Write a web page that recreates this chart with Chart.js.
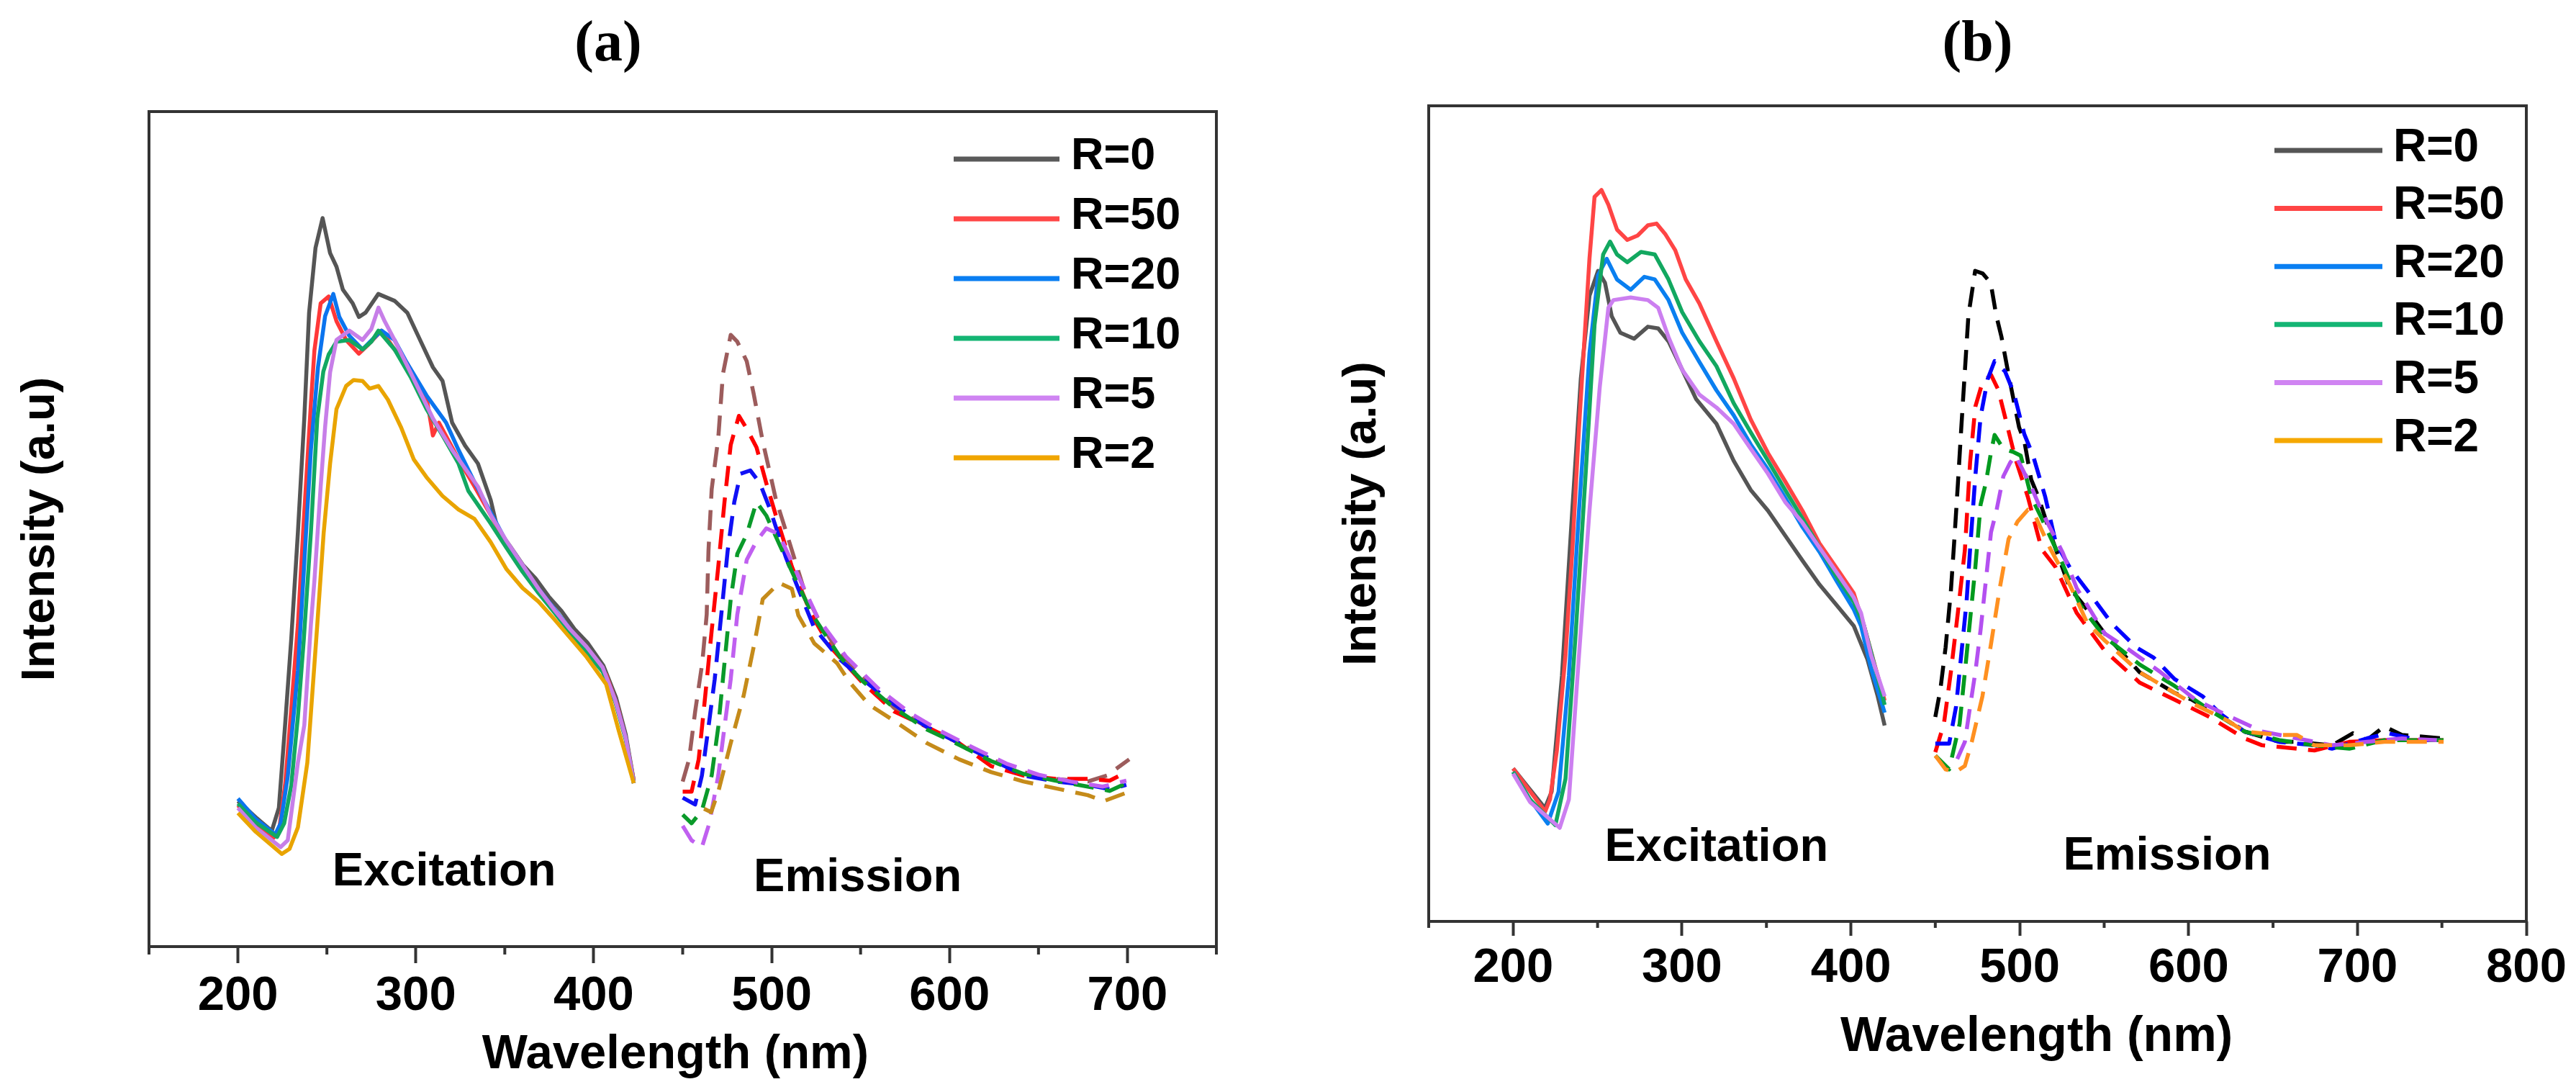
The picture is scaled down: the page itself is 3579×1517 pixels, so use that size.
<!DOCTYPE html>
<html>
<head>
<meta charset="utf-8">
<script src="https://cdn.jsdelivr.net/npm/chart.js@4.4.0/dist/chart.umd.min.js"></script>
<style>
  html, body { margin: 0; padding: 0; background: #fff; }
  #wrap { position: relative; width: 3579px; height: 1517px; }
  canvas { position: absolute; top: 0; }
  #ca { left: 0; }
  #cb { left: 1790px; }
</style>
</head>
<body>
<div id="wrap">
  <canvas id="ca" width="1790" height="1517"></canvas>
  <canvas id="cb" width="1789" height="1517"></canvas>
</div>
<script>
'use strict';
/* Excitation / emission spectra, panels (a) and (b). Intensity is arbitrary units. */
const SERIES = ['R=0', 'R=50', 'R=20', 'R=10', 'R=5', 'R=2'];
const X_TICKS_A = [200, 300, 400, 500, 600, 700];
const X_TICKS_B = [200, 300, 400, 500, 600, 700, 800];

// ---- panel (a), excitation: [wavelength nm, intensity]
const aExR0 = [[200,19.1],[210,17.2],[219,15.6],[223,18.3],[226.5,28],[230,38.2],[233.7,50.6],[237.3,64],[240,76.4],[243.6,84],[247.6,87.5],[251.8,83.4],[255.4,81.8],[259,79.1],[264.5,77.5],[268,75.9],[271.7,76.4],[278.9,78.6],[288,77.8],[295.2,76.4],[302.4,73.2],[309.6,70],[315,68.4],[320.4,63.5],[327.7,60.8],[334.9,58.7],[342.1,54.4],[345.8,51.1],[353,49],[360.2,46.8],[367.4,45.2],[374.7,43.1],[381.9,41.4],[389.1,39.3],[396.4,37.7],[405.4,35],[412.6,31.2],[418,26.9],[422.5,21.5]];
const aExR50 = [[200,18.6],[210,16.5],[220,14.8],[223,15.5],[226.5,21],[230,30],[233.7,39.8],[237,52],[241,65.7],[243,72],[246.5,77.5],[251,78.3],[255.4,75.4],[260.8,73.2],[268,71.6],[273.5,72.7],[280.7,74.3],[288,72.1],[295,70.5],[306,66.5],[309.6,62],[313,63.5],[324,59.2],[333,56],[342,52.7],[351,49.3],[360,46.3],[369,43.8],[378,41.4],[387,38.9],[396,36.6],[407,33.9],[413,30.5],[418,26.5],[422.5,21.5]];
const aExR20 = [[200,19.4],[210,17],[221,15.2],[224,16.5],[228,22],[233.7,34.4],[237,46],[241,60.3],[245,70],[249,76],[253.6,78.6],[257,75.9],[262.6,73.7],[270,72.1],[275.3,73.2],[280.7,74.3],[288,73.2],[295,70.5],[306,66.7],[317,63.5],[324,60.3],[333,56.5],[342,53],[351,49.5],[360,46.5],[369,44],[378,41.6],[387,39.2],[396,36.8],[405,34.6],[412,31],[418,26.5],[422.5,21.2]];
const aExR10 = [[200,18.8],[210,16.6],[222,14.9],[226,16.5],[230,21],[233.7,29],[237,38],[241,50.6],[244.6,64],[248,69.5],[251,71.5],[255.4,73],[262.6,73.2],[270,72.1],[275,73],[279,74.3],[288,72.1],[297,68.9],[306,65.1],[315,62],[324,58.7],[329.5,55.5],[342,51.7],[351,48.8],[360,46],[369,43.5],[378,41.2],[387,38.8],[396,36.5],[405,34.3],[412,30.8],[418,26.3],[422.5,21.2]];
const aExR5 = [[200,18.3],[210,16],[224,13.7],[228,14.5],[233.7,23.6],[237.3,28],[241,39.8],[243,45],[246.5,56],[249,63],[251.8,69.4],[255.4,73.2],[262.6,74.3],[270,73.2],[275,74.5],[279,77],[282.5,75.4],[288,73.2],[297,69.4],[309.6,64],[320.4,60.3],[334.9,56],[342,52.7],[351,49.6],[360,46.8],[369,44],[378,41.5],[387,39.2],[396,37.2],[405,34.8],[412,31],[418,26.5],[422.5,21.2]];
const aExR2 = [[200,17.7],[210,15.5],[224.7,12.9],[229,13.5],[233.7,16],[239,23.6],[244.6,39.8],[248.2,50.6],[251.8,58.7],[255.4,65.1],[260.8,67.8],[265,68.5],[270,68.4],[274,67.5],[279,67.8],[284.3,66.2],[291.6,63],[298.8,59.2],[306,57.1],[315,54.9],[324,53.3],[333,52.2],[342,49.5],[351,46.3],[360,44.1],[369,42.5],[378,40.4],[387,38.2],[396,36],[407,32.8],[414,27.4],[422.5,21.2]];

// ---- panel (a), emission
const aEmR0 = [[450,21.4],[453.6,24],[457,29.6],[461,35.3],[463.5,41],[464.5,48.5],[466.3,55.7],[470,61.7],[472.6,69.2],[477,73.8],[480.7,73],[486,70.7],[489.8,67],[495,61.3],[502.4,54.5],[508,50.8],[518.7,43.6],[525.9,40.6],[536.7,36.8],[551,33.8],[569,30],[587.3,27.8],[605.4,25.9],[623.4,24],[641.5,22.5],[659.6,21.7],[677.7,21.4],[688.5,22.1],[701,24]];
const aEmR50 = [[450,20.2],[455,20.2],[459,24],[462.7,31.5],[466.3,39.1],[470,46.6],[473.5,54.2],[477,60.9],[481.6,64.3],[486,62.8],[491.5,60.6],[497,56.4],[502.4,52.6],[511.4,46.6],[522.3,41],[533,37.2],[551,33],[569,29.6],[587.3,27.8],[605.4,25.9],[623.4,23.2],[641.5,22.1],[659.6,21.7],[677.7,21.7],[690,21.5],[699.4,22.5]];
const aEmR20 = [[450,19.5],[457,18.7],[460.8,22.1],[464.5,27.8],[468,33.4],[471.7,41],[475.3,48.5],[479,54.2],[482.5,57.5],[488,57.9],[493.4,56.4],[499,53.4],[508,47.7],[515,44],[524,39.4],[538.5,35.7],[551,33.4],[569,30.4],[587.3,27.8],[605.4,25.9],[623.4,24],[641.5,22.1],[659.6,21.4],[677.7,21],[690,20.5],[699.4,21]];
const aEmR10 = [[450,17.5],[455,16.5],[460.8,18],[466.3,22.1],[470,27.8],[473.5,35.3],[477,42.8],[480.7,48.1],[486,50.4],[491.5,54.2],[497,52.6],[504.2,49.3],[515,44.4],[524,40.6],[538.5,36],[551,33.2],[569,30],[587.3,27.5],[605.4,25.7],[623.4,23.8],[641.5,22.3],[659.6,21.5],[677.7,20.8],[690,20.3],[699.4,21.2]];
const aEmR5 = [[450,16.2],[455,14.5],[460.8,13.7],[465,16.5],[470,22.1],[473.5,27.8],[477,33.4],[480.7,41],[486,47.4],[491.5,49.6],[497,51.1],[504.2,50.4],[515,45.5],[525.9,40.6],[542,36],[560,32.3],[578,29.4],[596,27.2],[614,25.3],[632,23.5],[650,22.2],[668,21.4],[686,20.8],[699.4,21.5]];
const aEmR2 = [[462,18.2],[466,17.8],[470,20.2],[477,25.9],[484.3,31.5],[490.7,38],[495,42.8],[504.2,44.7],[511.4,44],[515,40.9],[524,37.6],[536.7,35.3],[544,33],[554.8,30.4],[569,28.5],[587.3,25.9],[605.4,24],[623.4,22.5],[641.5,21.4],[659.6,20.6],[677.7,19.8],[686.7,19.1],[701,20.2]];

// ---- panel (b), excitation (no R=2 curve)
const bExR0 = [[200,22.9],[209,20.7],[218.8,18.3],[222.8,20.2],[228.9,33.7],[235,52.9],[240.1,68.3],[245.2,77.9],[250.3,80.8],[254.4,79.4],[258.4,75.5],[263.5,73.6],[271.6,72.9],[279.8,74.3],[285.9,74.1],[292,72.6],[300.1,69.3],[308.3,65.9],[320.4,63],[330.6,58.7],[340.7,55.3],[350.9,52.9],[361.1,50],[371.3,47.1],[381.4,44.3],[391.6,41.9],[401.7,39.5],[409.8,35.6],[415.9,31.3],[420,27.9]];
const bExR50 = [[200,22.9],[209,20.5],[219,17.9],[221.8,19.3],[225.9,25],[231,36.1],[235,48.1],[239,62.5],[242,72.1],[245.2,82.2],[248.2,89.4],[252.3,90.2],[256.4,88.5],[261.5,85.6],[267.6,84.4],[273.7,84.9],[279.8,86.1],[284.9,86.3],[290,85.1],[296,83.2],[302.2,79.8],[310.3,77],[320.4,72.6],[330.6,68.3],[340.7,63.5],[350.9,59.6],[361.1,56.3],[371.3,52.9],[381.4,49.1],[391.6,46.2],[401.7,43.3],[407.8,39.5],[413.9,35.1],[420,30.8]];
const bExR20 = [[200,22.5],[210,19.3],[220.5,16.5],[226.9,20.2],[233,33.7],[239,52.9],[245.2,71.2],[250.3,80.3],[255.4,82.2],[261.5,79.8],[269.6,78.6],[277.7,80.1],[283.9,79.8],[292,77.4],[300.1,73.6],[310.3,70.2],[320.4,66.9],[330.6,64],[340.7,60.6],[350.9,57.7],[361.1,54.4],[371.3,51],[381.4,48.1],[391.6,44.7],[401.7,41.4],[406,39.5],[411.9,34.6],[420,29.4]];
const bExR10 = [[200,22.5],[210,19.3],[225,16.3],[231,21.7],[237,38.5],[243.1,57.7],[248.2,74.5],[253.3,82.7],[257.4,84.2],[261.5,82.7],[267.6,81.8],[275.7,83],[283.9,82.7],[292,79.8],[300.1,76],[310.3,72.6],[320.4,69.7],[330.6,65.4],[340.7,62],[350.9,58.7],[361.1,55.3],[371.3,52],[381.4,48.6],[391.6,45.2],[401.7,42.3],[407.8,39.5],[413.9,35],[420,30.3]];
const bExR5 = [[200,22.3],[210,19],[227.6,16],[233,19.3],[239,36.1],[245.2,52.9],[251.3,67.3],[256.4,76.5],[259.4,77.4],[269.6,77.7],[279.8,77.4],[285.9,76.5],[292,73.1],[300.1,69.3],[310.3,66.4],[320.4,64.9],[330.6,63],[340.7,60.1],[350.9,57.2],[361.1,53.9],[371.3,51.5],[381.4,48.6],[391.6,45.7],[401.7,42.8],[406,41],[411.9,36.1],[420,31.3]];

// ---- panel (b), emission
const bEmR0 = [[450,28.9],[453,32.1],[456.1,37],[459.2,43.5],[461.3,49.6],[463.4,56.1],[465.4,62.6],[467.5,69.1],[469.6,75.6],[473.6,80.8],[478,80.5],[482.8,79.4],[486.1,75.6],[489.2,73.1],[493.4,68.7],[499.6,62.6],[502.7,61],[506.8,56.5],[511,54.5],[519.2,49.6],[529.6,43.9],[537.9,41.9],[550.3,38.6],[571,34.1],[591.7,31.7],[602,30.9],[622.8,28.5],[633.1,27.2],[653.8,26],[664.2,26],[684.9,25.6],[697.3,27],[705.6,26.2],[715.9,27.8],[726.3,26.8],[751,26.4]];
const bEmR50 = [[450,24.8],[455.1,28.1],[459.2,34.1],[463.4,41.1],[467.5,48.3],[470.6,58.5],[473.7,65],[477.9,67.8],[483,68.7],[487.2,67],[491.3,63.8],[497.5,58.9],[504.8,54.5],[513,48.4],[521.3,46.3],[533.7,41],[550.3,36.6],[571,32.9],[591.7,30.9],[612.4,28.9],[633.1,26.4],[643.5,25.6],[664.2,25.2],[674.5,25],[695.2,26],[715.9,26.2],[751,26.2]];
const bEmR20 = [[450,25.8],[458.2,25.8],[462.3,30.1],[465.4,36.2],[468.5,42.3],[470.6,48.4],[473.7,56.9],[476.8,63.8],[481,68.2],[485.1,70.3],[491.3,69.1],[496.5,66.6],[502.7,61.8],[507.9,59.3],[515.1,54.5],[521.3,49.2],[529.6,46.3],[542,43.1],[554.4,39.8],[568.9,37],[579.3,35.8],[591.7,33.3],[608.3,31.3],[618.6,29.3],[633.1,27.2],[653.8,26],[674.5,25.6],[684.9,25.2],[705.6,26.4],[718,27],[736.6,26.2],[751,26.2]];
const bEmR10 = [[450,24.4],[458.2,22.8],[464.4,28.1],[467.5,34.1],[470.6,40.2],[473.7,46.3],[476.8,53.6],[479.9,56.1],[483,59.7],[485.1,61.7],[490.3,60.1],[496.5,59.7],[500.6,59.3],[506.8,54.5],[513,52],[523.4,47.6],[535.8,41.9],[550.3,38.2],[560.7,36.6],[571,35],[591.7,32.5],[612.4,29.7],[633.1,27.2],[653.8,26.2],[674.5,25.6],[695.2,25.2],[715.9,26.2],[751,26.2]];
const bEmR5 = [[463,24],[467.5,26],[470.6,30.1],[473.7,34.1],[476.8,39],[479.9,44.7],[483,50.4],[486.1,52.8],[490.3,56.9],[494.4,58.5],[497.5,59.3],[506.8,55.7],[513,52.8],[525.5,48],[533.7,43.9],[550.3,38.6],[562.7,37],[583.4,34.1],[604.1,30.9],[624.8,28.9],[643.5,27.2],[664.2,26.4],[684.9,25.6],[705.6,26],[726.3,26.4],[747,26.2]];
const bEmR2 = [[450,24.4],[456.1,22.8],[462,22.5],[467.5,23.2],[471.6,26],[477.9,31.3],[483,37.4],[488.2,43.9],[493.4,49.6],[498.6,51.6],[504.8,53],[508.9,52.4],[518,48.5],[529.6,44.3],[540,39.8],[550.3,37.8],[571,34.1],[591.7,31.7],[602,30.5],[622.8,28.5],[633.1,27.2],[653.8,26.8],[664.2,26.8],[674.5,25.6],[695.2,25.6],[715.9,26],[736.6,26],[751,26]];

// colours, in SERIES order
const KEY_A = ['#5a5a5a', '#ff4747', '#0a7ef2', '#14b574', '#cf84f2', '#f0a500'];
const KEY_B = ['#555555', '#ff4545', '#0a7ff2', '#14b574', '#d084f2', '#f5a800'];
const EX_A = ['#555555', '#ff3838', '#0b74ee', '#12a862', '#c77ee8', '#e9a400'];
const EM_A = ['#9c5c5c', '#ff0000', '#1010f5', '#0a9a2a', '#c060f0', '#c58b1a'];
const EX_B = ['#555555', '#ff4545', '#0a7ff0', '#12a860', '#cc7ff0'];
const EM_B = ['#000000', '#ff0000', '#0000ff', '#009a1e', '#b450f0', '#ff9020'];

const SANS = "'Liberation Sans', Arial, sans-serif";
const pts = (arr) => arr.map(([x, y]) => ({ x, y }));

function line(data, color, dashed) {
  return {
    data: pts(data), borderColor: color, borderWidth: 5.5,
    borderDash: dashed ? [28, 16] : [], borderJoinStyle: 'round',
    pointRadius: 0, tension: 0, fill: false,
  };
}

// box frame + short minor ticks on the x axis
const frame = {
  id: 'frame',
  afterDraw(chart, args, o) {
    const { ctx, chartArea: a } = chart, x = chart.scales.x;
    ctx.save();
    ctx.strokeStyle = '#333'; ctx.lineWidth = 4;
    ctx.strokeRect(a.left, a.top, a.right - a.left, a.bottom - a.top);
    ctx.beginPath();
    for (let v = x.min; v <= x.max; v += 50) {
      if (v % 100 === 0) continue;
      const px = x.getPixelForValue(v);
      ctx.moveTo(px, a.bottom); ctx.lineTo(px, a.bottom + o.minor);
    }
    ctx.stroke();
    ctx.restore();
  },
};

// legend drawn inside the plot
const key = {
  id: 'key',
  afterDraw(chart, args, o) {
    const { ctx } = chart;
    ctx.save();
    ctx.font = `bold ${o.size}px ${SANS}`;
    ctx.textBaseline = 'middle'; ctx.textAlign = 'left';
    SERIES.forEach((t, i) => {
      const y = o.top + i * o.step;
      ctx.strokeStyle = o.colors[i]; ctx.lineWidth = 7;
      ctx.beginPath(); ctx.moveTo(o.x0, y); ctx.lineTo(o.x1, y); ctx.stroke();
      ctx.fillStyle = '#000';
      ctx.fillText(t, o.tx, y - 3);
    });
    ctx.restore();
  },
};

// free text placed in data coordinates
const notes = {
  id: 'notes',
  afterDraw(chart, args, o) {
    const { ctx, scales: { x, y } } = chart;
    ctx.save(); ctx.fillStyle = '#000'; ctx.textBaseline = 'middle';
    o.items.forEach((it) => {
      ctx.font = `bold ${it.size}px ${SANS}`;
      ctx.textAlign = it.align;
      ctx.fillText(it.text, x.getPixelForValue(it.x), y.getPixelForValue(it.y));
    });
    ctx.restore();
  },
};

function panel(id, p) {
  return new Chart(document.getElementById(id), {
    type: 'line',
    data: { datasets: p.datasets },
    plugins: [frame, key, notes],
    options: {
      responsive: false, devicePixelRatio: 1, animation: false,
      layout: { padding: { left: 0, top: 0, right: p.right, bottom: 0 } },
      scales: {
        x: {
          type: 'linear', min: 150, max: p.xmax,
          afterBuildTicks: (s) => { s.ticks = p.ticks.map((v) => ({ value: v })); },
          ticks: { autoSkip: false, maxRotation: 0, color: '#000', padding: p.tickPad,
            font: { family: SANS, size: 67, weight: 'bold' } },
          grid: { drawOnChartArea: false, drawTicks: true, tickLength: p.tickLen,
            tickWidth: 4, tickColor: '#333' },
          border: { display: false },
          afterFit: (s) => { s.height = p.xh; },
        },
        y: {
          min: p.ymin, max: 100,
          ticks: { display: false },
          grid: { display: false, drawTicks: false },
          border: { display: false },
          title: { display: true, text: 'Intensity (a.u)', color: '#000',
            font: { family: SANS, size: 65, weight: 'bold' }, padding: { top: p.yPad, bottom: 0 } },
          afterFit: (s) => { s.width = p.yw; },
        },
      },
      plugins: {
        legend: { display: false },
        tooltip: { enabled: false },
        title: { display: true, text: p.title, color: '#000', fullSize: p.fullTitle,
          font: { family: "'Liberation Serif', 'Times New Roman', serif", size: 80, weight: 'bold' },
          padding: { top: 15, bottom: p.titleBottom } },
        frame: { minor: p.minor },
        key: p.key,
        notes: { items: p.notes },
      },
    },
  });
}

// first dataset is drawn on top
panel('ca', {
  title: '(a)', fullTitle: true, titleBottom: 44, right: 100, xmax: 750, ticks: X_TICKS_A,
  xh: 202, yw: 207, yPad: 18, ymin: 2.03, tickLen: 23, tickPad: 6, minor: 11,
  datasets: [
    line(aEmR2, EM_A[5], true), line(aEmR5, EM_A[4], true), line(aEmR10, EM_A[3], true),
    line(aEmR20, EM_A[2], true), line(aEmR50, EM_A[1], true), line(aEmR0, EM_A[0], true),
    line(aExR2, EX_A[5]), line(aExR5, EX_A[4]), line(aExR10, EX_A[3]),
    line(aExR20, EX_A[2]), line(aExR50, EX_A[1]), line(aExR0, EX_A[0]),
  ],
  key: { colors: KEY_A, x0: 1325, x1: 1472, tx: 1488, top: 221, step: 83, size: 63 },
  notes: [
    { text: 'Excitation', x: 253.1, y: 10.7, align: 'left', size: 65 },
    { text: 'Emission', x: 489.9, y: 10.05, align: 'left', size: 65 },
    { text: 'Wavelength (nm)', x: 445.9, y: -10.7, align: 'center', size: 67 },
  ],
});

panel('cb', {
  title: '(b)', fullTitle: false, titleBottom: 36, right: 69, xmax: 800, ticks: X_TICKS_B,
  xh: 237, yw: 195, yPad: 64, ymin: 5.11, tickLen: 20, tickPad: 5, minor: 9,
  datasets: [
    line(bEmR2, EM_B[5], true), line(bEmR5, EM_B[4], true), line(bEmR10, EM_B[3], true),
    line(bEmR20, EM_B[2], true), line(bEmR50, EM_B[1], true), line(bEmR0, EM_B[0], true),
    line(bExR5, EX_B[4]), line(bExR10, EX_B[3]), line(bExR20, EX_B[2]),
    line(bExR50, EX_B[1]), line(bExR0, EX_B[0]),
  ],
  key: { colors: KEY_B, x0: 1370, x1: 1520, tx: 1535, top: 209, step: 80.6, size: 64 },
  notes: [
    { text: 'Excitation', x: 254.2, y: 13.65, align: 'left', size: 65 },
    { text: 'Emission', x: 525.7, y: 12.65, align: 'left', size: 65 },
    { text: 'Wavelength (nm)', x: 510, y: -8.4, align: 'center', size: 68 },
  ],
});
</script>
</body>
</html>
